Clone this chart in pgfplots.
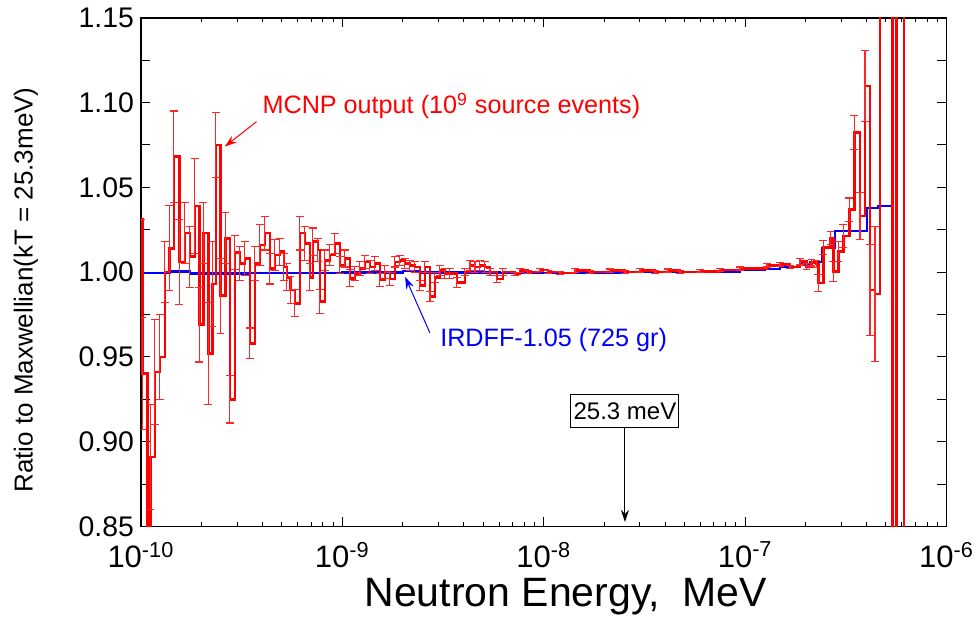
\documentclass[border=0pt]{standalone}
\usepackage{pgfplots}
\pgfplotsset{compat=1.18}
\usepackage{pgfplotstable}
\usepackage{fontspec}
\setmainfont{Liberation Sans}
\usetikzlibrary{arrows.meta}

% MCNP ratio: left bin edge (log10 E/MeV), ratio, 1-sigma
\pgfplotstableread{
lx y e
-10.0000 1.031 0
-9.9916 0.940 0.033
-9.9687 0.800 0
-9.9518 0.891 0.031
-9.9305 0.941 0.031
-9.9057 0.950 0.025
-9.8808 1.000 0.018
-9.8595 1.014 0.025
-9.8361 1.068 0.027
-9.8098 1.006 0.025
-9.7815 1.023 0.018
-9.7567 1.009 0.018
-9.7319 1.039 0.028
-9.7105 0.969 0.022
-9.6907 1.023 0.018
-9.6658 0.952 0.030
-9.6460 0.993 0.025
-9.6276 1.075 0.019
-9.6043 0.986 0.022
-9.5794 1.020 0.015
-9.5581 0.925 0.014
-9.5333 1.0115 0.010
-9.5084 1.005 0.010
-9.4836 1.008 0.010
-9.4588 0.958 0.009
-9.4340 1.005 0.010
-9.4091 1.016 0.012
-9.3843 1.023 0.010
-9.3595 1.002 0.009
-9.3347 1.010 0.009
-9.3098 1.012 0.008
-9.2900 1.003 0.008
-9.2751 0.997 0.008
-9.2577 0.9895 0.008
-9.2354 0.9816 0.008
-9.2105 1.023 0.010
-9.1857 1.017 0.010
-9.1609 0.997 0.008
-9.1460 1.018 0.008
-9.1212 1.013 0.007
-9.1112 0.9826 0.007
-9.0864 1.007 0.006
-9.0616 1.010 0.006
-9.0367 1.017 0.006
-9.0119 1.004 0.005
-8.9871 1.008 0.005
-8.9623 0.9964 0.005
-8.9374 0.9993 0.004
-8.9126 1.002 0.004
-8.8878 1.006 0.004
-8.8630 1.003 0.004
-8.8381 1.005 0.004
-8.8133 0.9954 0.004
-8.7885 1.000 0.004
-8.7637 0.996 0.004
-8.7388 1.006 0.003
-8.7140 1.007 0.003
-8.6892 1.005 0.003
-8.6644 1.004 0.003
-8.6395 1.003 0.003
-8.6147 0.992 0.003
-8.5899 1.003 0.003
-8.5650 0.9855 0.003
-8.5402 0.997 0.003
-8.5154 1.001 0.003
-8.4906 0.999 0.003
-8.4657 0.999 0.003
-8.4310 0.994 0.003
-8.3913 1.000 0.002
-8.3664 1.004 0.003
-8.3416 1.003 0.003
-8.3168 1.004 0.003
-8.2920 1.003 0.003
-8.2671 1.000 0.002
-8.2324 0.996 0.002
-8.2026 1.000 0.002
-8.1430 0.999 0.001
-8.1182 1.001 0.001
-8.0785 1.000 0.001
-8.0189 1.0012 0.001
-7.9792 1.000 0.001
-7.9196 0.9995 0.001
-7.8451 1.001 0.001
-7.7706 1.000 0.001
-7.6713 1.0008 0.001
-7.5968 1.000 0.001
-7.5223 1.001 0.001
-7.4479 1.000 0.001
-7.3833 1.0008 0.001
-7.3237 1.000 0.001
-7.2244 1.0005 0.001
-7.1251 1.0012 0.001
-7.0258 1.002 0.001
-6.8918 1.004 0.001
-6.8272 1.0045 0.001
-6.7776 1.003 0.001
-6.7279 1.0062 0.002
-6.6946 1.0033 0.002
-6.6698 1.0056 0.002
-6.6450 1.0048 0.002
-6.6370 0.9935 0.005
-6.6122 1.0145 0.004
-6.5755 1.020 0.004
-6.5626 1.0003 0.006
-6.5377 1.0121 0.006
-6.5129 1.0213 0.007
-6.4831 1.0367 0.007
-6.4583 1.0822 0.010
-6.4300 1.0331 0.014
-6.4052 1.1097 0.021
-6.3804 0.9895 0.027
-6.3556 0.9871 0.040
-6.3307 1.5 0
-6.2677 0.0 0
-6.2478 1.5 0
-6.2116 0.0 0
-6.0000 0.0 0
}\mcnp

% IRDFF-1.05, 725 groups
\pgfplotstableread{
lx y
-10.0000 0.9994
-9.8560 1.0003
-9.7567 0.9992
-9.4588 0.9995
-9.0020 0.9997
-8.6991 1.0006
-8.6147 0.9998
-8.2175 0.9996
-7.6217 1.0000
-7.2244 1.0003
-7.0258 1.0012
-6.9017 1.0020
-6.8272 1.0032
-6.7279 1.0045
-6.6783 1.0058
-6.6202 1.0140
-6.5541 1.0240
-6.3967 1.0380
-6.3406 1.0388
-6.2776 1.0395
}\irdff

\begin{document}
\begin{tikzpicture}
\begin{axis}[
  name=ax,
  scale only axis,
  width=403pt, height=254.5pt,
  xmode=log,
  xmin=1e-10, xmax=1e-6,
  ymin=0.85, ymax=1.15,
  xtick={1e-10,1e-9,1e-8,1e-7,1e-6},
  xticklabels={10\textsuperscript{-10},10\textsuperscript{-9},10\textsuperscript{-8},10\textsuperscript{-7},10\textsuperscript{-6}},
  minor xtick={2e-10,3e-10,4e-10,5e-10,6e-10,7e-10,8e-10,9e-10,
    2e-9,3e-9,4e-9,5e-9,6e-9,7e-9,8e-9,9e-9,
    2e-8,3e-8,4e-8,5e-8,6e-8,7e-8,8e-8,9e-8,
    2e-7,3e-7,4e-7,5e-7,6e-7,7e-7,8e-7,9e-7},
  ytick={0.85,0.875,0.9,0.925,0.95,0.975,1,1.025,1.05,1.075,1.1,1.125,1.15},
  yticklabels={0.85,,0.90,,0.95,,1.00,,1.05,,1.10,,1.15},
  tick align=inside,
  major tick length=4.6pt,
  minor tick length=2.2pt,
  axis line style={line width=0.85pt},
  every tick/.style={black, line width=0.5pt},
  yticklabel style={font=\fontsize{14.2}{16}\selectfont},
  xticklabel style={font=\fontsize{15.5}{17}\selectfont, inner sep=0.5pt, yshift=-7pt},
  xlabel={Neutron Energy,\ \ MeV},
  xlabel style={font=\fontsize{20.5}{24}\selectfont, xshift=11pt, yshift=-1pt},
  ylabel={Ratio to Maxwellian(kT = 25.3meV)},
  ylabel style={font=\fontsize{13}{15}\selectfont, xshift=-9pt, yshift=13.5pt},
]
\addplot[blue, line width=1.1pt, const plot, mark=none]
  table[x expr={10^(\thisrow{lx})}, y=y] {\irdff};
\addplot[red, line width=1.35pt, const plot, mark=none,
  error bars/.cd, y dir=both, y explicit,
  error bar style={line width=0.55pt, draw=red!85},
  error mark options={line width=0.55pt, draw=red!85, mark size=1.9pt, rotate=90}]
  table[x expr={10^(\thisrow{lx})}, y=y, y error=e] {\mcnp};

\node[anchor=west, inner sep=0pt, text=red, font=\fontsize{12.6}{15}\selectfont]
  at (axis cs:4.0e-10,1.098) {MCNP output (10\textsuperscript{9} source events)};
\draw[red, line width=0.5pt, -{Stealth[length=6pt, width=4pt]}]
  (axis cs:3.75e-10,1.0887) -- (axis cs:2.61e-10,1.074);
\node[anchor=west, inner sep=0pt, text=blue, font=\fontsize{12.6}{15}\selectfont]
  at (axis cs:3.05e-9,0.960) {IRDFF-1.05 (725 gr)};
\draw[blue, line width=0.5pt, -{Stealth[length=6pt, width=4pt]}]
  (axis cs:2.72e-9,0.9642) -- (axis cs:2.05e-9,0.9972);
\node[draw=black, line width=0.5pt, fill=white, minimum width=54pt, minimum height=16.5pt,
  inner sep=1pt, font=\fontsize{12}{14}\selectfont] (lab) at (axis cs:2.53e-8,0.9182) {25.3 meV};
\draw[black, line width=0.5pt, -{Stealth[length=6pt, width=4pt]}]
  (lab.south) -- (axis cs:2.53e-8,0.8527);
\end{axis}
\path ([shift={(-70.5pt,-46.15pt)}]ax.south west) rectangle ([shift={(14pt,8.85pt)}]ax.north east);
\end{tikzpicture}
\end{document}
